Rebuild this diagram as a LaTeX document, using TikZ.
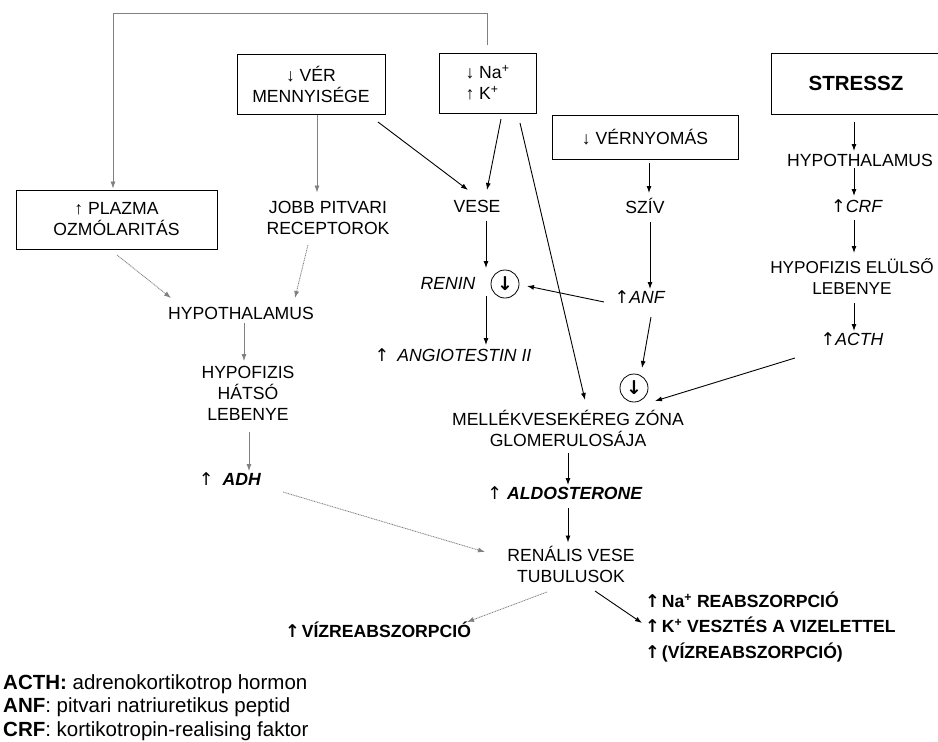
\documentclass[tikz,border=0pt]{standalone}
\usepackage{fontspec}
\setmainfont{Liberation Sans}
\newfontfamily\arrowfont{DejaVu Sans}
\newcommand{\upar}{{\arrowfont ↑}}
\usetikzlibrary{arrows.meta,calc}
\begin{document}
\begin{tikzpicture}[x=1pt,y=-1pt,
  lbl/.style={inner sep=0pt, align=center, font=\fontsize{17.6}{21}\selectfont},
  frame/.style={draw=black, line width=0.9pt},
  tip/.style={-{Latex[length=7pt,width=5pt]}},
  arr/.style={draw=black, line width=0.9pt, tip},
  garr/.style={draw=gray, line width=0.8pt, tip},
  darr/.style={draw=gray, line width=0.8pt, dash pattern=on 1pt off 0.7pt, tip},
  sign/.style={circle, draw=black, line width=0.8pt, minimum size=28pt, inner sep=0pt,
    font=\fontsize{19}{19}\selectfont\arrowfont\bfseries}
]
\fill[white] (0,0) rectangle (938,742);
\useasboundingbox (0,0) rectangle (938,742);

% --- framed triggers ---
\node[lbl, frame, minimum width=201pt, minimum height=59pt] (plazma) at (116.5,219.5) {↑ PLAZMA\\OZMÓLARITÁS};
\node[lbl, frame, minimum width=148pt, minimum height=60pt] (ver) at (311,84) {↓ VÉR\\MENNYISÉGE};
\node[lbl, frame, minimum width=97pt, minimum height=60pt, align=left] (na) at (487.5,83) {↓ Na\textsuperscript{+}\\↑ K\textsuperscript{+}};
\node[lbl, frame, minimum width=186pt, minimum height=44pt] (vny) at (645,137) {↓ VÉRNYOMÁS};
\node[lbl, frame, minimum width=170pt, minimum height=61pt, font=\fontsize{20.5}{24}\selectfont\bfseries] (stressz) at (856,83.5) {STRESSZ};

% --- intermediate stations ---
\node[lbl] (jobb) at (328,217.5) {JOBB PITVARI\\RECEPTOROK};
\node[lbl] (vese) at (477,206) {VESE};
\node[lbl] (sziv) at (645,206) {SZÍV};
\node[lbl] (hypoR) at (860,160) {HYPOTHALAMUS};
\node[lbl] (crf) at (857,206) {\upar\textit{CRF}};
\node[lbl, font=\fontsize{17.2}{21}\selectfont] (hypofR) at (852,277) {HYPOFIZIS ELÜLSŐ\\LEBENYE};
\node[lbl] (acth) at (852,339) {\upar\textit{ACTH}};
\node[lbl] (anf) at (640,297) {\upar\textit{ANF}};
\node[lbl, font=\fontsize{17.6}{21}\selectfont\itshape] (renin) at (448,283) {RENIN};
\node[sign] (c1) at (505,284) {↓};
\node[lbl] (angio) at (453,355) {\upar\hspace{8pt}\textit{ANGIOTESTIN II}};
\node[sign] (c2) at (634,388) {↓};
\node[lbl] (mellek) at (568,428.5) {MELLÉKVESEKÉREG ZÓNA\\GLOMERULOSÁJA};
\node[lbl] (aldo) at (565,493) {\upar\hspace{5pt}\textbf{\textit{ALDOSTERONE}}};
\node[lbl] (renalis) at (571,564.5) {RENÁLIS VESE\\TUBULUSOK};
\node[lbl] (hypoL) at (241,313) {HYPOTHALAMUS};
\node[lbl] (hypofL) at (248,393) {HYPOFIZIS\\HÁTSÓ\\LEBENYE};
\node[lbl] (adh) at (230,479) {\upar\hspace{9pt}\textbf{\textit{ADH}}};

% --- outcomes ---
\node[lbl, font=\fontsize{17.6}{21}\selectfont\bfseries] (viz) at (378,630) {\upar\hspace{2pt}VÍZREABSZORPCIÓ};
\node[lbl, align=left, anchor=west, font=\fontsize{17.6}{25.5}\selectfont\bfseries] (res) at (645,627)
  {\upar\hspace{2pt}Na\textsuperscript{+} REABSZORPCIÓ\\\upar\hspace{2pt}K\textsuperscript{+} VESZTÉS A VIZELETTEL\\\upar\hspace{2pt}(VÍZREABSZORPCIÓ)};

% --- legend ---
\node[anchor=north west, inner sep=0pt, align=left, font=\fontsize{20.5}{23.5}\selectfont] (legend) at (3,674)
  {\textbf{ACTH:} adrenokortikotrop hormon\\
   \textbf{ANF}: pitvari natriuretikus peptid\\
   \textbf{CRF}: kortikotropin-realising faktor};

% --- connectors ---
\draw[garr] ($(na)+(0,-38)$) -- ++(0,-32) -| ($(plazma)+(-3.5,-31)$);
\draw[garr] ($(ver)+(6,31)$) -- ($(jobb)+(-11,-25)$);
\draw[arr] ($(ver)+(67,38)$) -- ($(vese)+(-9,-16)$);
\draw[arr] ($(na)+(13.5,36)$) -- ($(vese)+(10,-16)$);
\draw[arr] ($(na)+(32.5,40)$) -- ($(mellek)+(17,-28.5)$);
\draw[arr] ($(vny)+(4,26)$) -- ($(sziv)+(4,-13)$);
\draw[arr] ($(sziv)+(5,16)$) -- ($(anf)+(10,-8)$);
\draw[arr] ($(anf)+(-36,5)$) -- ($(c1)+(22,2)$);
\draw[arr] ($(vese)+(9,15)$) -- ($(c1)+(-19,-16)$);
\draw[arr] ($(renin)+(38,13)$) -- ($(angio)+(33,-10)$);
\draw[arr] ($(anf)+(11,20)$) -- ($(c2)+(8,-20)$);
\draw[arr] ($(acth)+(-57,19)$) -- ($(c2)+(21,13)$);
\draw[arr] ($(stressz)+(-2,38.5)$) -- ($(hypoR)+(-6,-9)$);
\draw[arr] ($(hypoR)+(-6,8)$) -- ($(crf)+(-3,-10)$);
\draw[arr] ($(crf)+(-3,14)$) -- ($(hypofR)+(2,-24)$);
\draw[arr] ($(hypofR)+(2,26)$) -- ($(acth)+(2,-8)$);
\draw[darr] ($(plazma)+(0.5,35.5)$) -- ($(hypoL)+(-70,-15)$);
\draw[darr] ($(jobb)+(-20,27.5)$) -- ($(hypoL)+(54,-15)$);
\draw[garr] ($(hypoL)+(3,10)$) -- ($(hypofL)+(-4,-32)$);
\draw[garr] ($(hypofL)+(1,39)$) -- ($(adh)+(19,-8)$);
\draw[darr] ($(adh)+(53,13)$) -- ($(renalis)+(-86,-12.5)$);
\draw[arr] ($(mellek)+(0,24.5)$) -- ($(aldo)+(3,-8)$);
\draw[arr] ($(aldo)+(3,15)$) -- ($(renalis)+(-3,-22)$);
\draw[darr] ($(renalis)+(-24,27.5)$) -- ($(viz)+(89,-8)$);
\draw[arr] ($(renalis)+(24,26.5)$) -- ($(res.west)+(-3,-4)$);
\end{tikzpicture}
\end{document}
